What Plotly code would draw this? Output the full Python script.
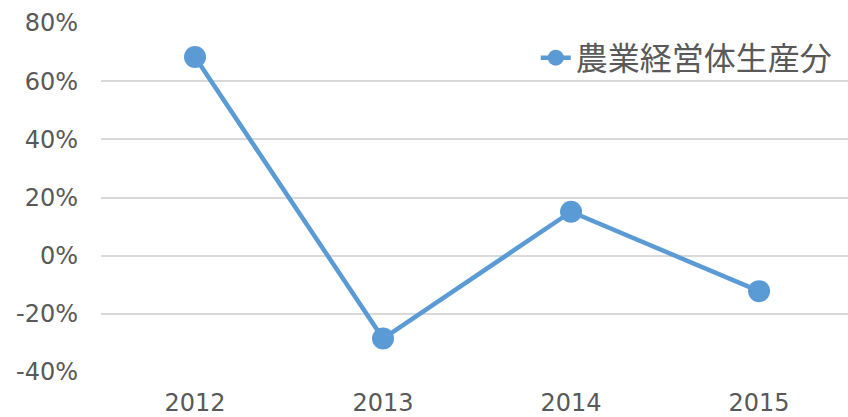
import plotly.graph_objects as go

years = ["2012", "2013", "2014", "2015"]
share = [0.683, -0.285, 0.151, -0.122]
series_name = "農業経営体生産分"

y_ticks = [-0.4, -0.2, 0.0, 0.2, 0.4, 0.6, 0.8]
y_tick_labels = ["-40%", "-20%", "0%", "20%", "40%", "60%", "80%"]

blue = "#5b9bd5"
grey = "#595959"

fig = go.Figure()
fig.add_trace(
    go.Scatter(
        x=years,
        y=share,
        name=series_name,
        mode="lines+markers",
        line=dict(color=blue, width=4.5),
        marker=dict(color=blue, size=22),
    )
)

fig.update_layout(
    width=848,
    height=417,
    margin=dict(l=101, r=0, t=23, b=45),
    paper_bgcolor="white",
    plot_bgcolor="white",
    showlegend=True,
    legend=dict(
        x=0.582,
        xanchor="left",
        y=0.9,
        yanchor="middle",
        bgcolor="rgba(0,0,0,0)",
        font=dict(family="Noto Sans CJK JP", size=32, color=grey),
    ),
    font=dict(family="DejaVu Sans", size=24, color=grey),
)

fig.update_xaxes(
    type="category",
    range=[-0.5, 3.473],
    showgrid=False,
    showline=False,
    ticks="",
    ticklabelstandoff=14,
)

fig.update_yaxes(
    range=[-0.4, 0.8],
    tickvals=y_ticks,
    ticktext=y_tick_labels,
    showgrid=True,
    gridcolor="#d9d9d9",
    gridwidth=1.5,
    zeroline=False,
    showline=False,
    ticks="",
    ticklabelstandoff=22,
)

# the page's default body margin would push the chart off by 8px
fig.write_html(
    "out.html",
    config={"displayModeBar": False},
    post_script="document.body.style.margin='0';",
)
